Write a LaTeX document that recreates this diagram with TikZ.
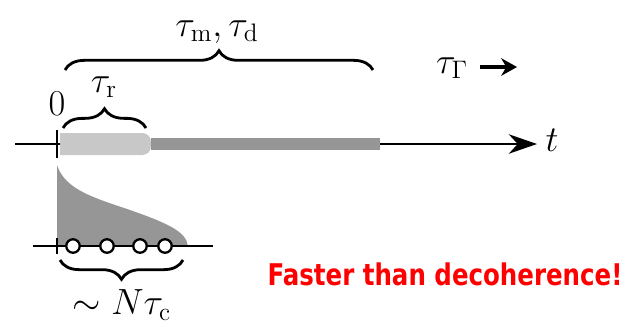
\documentclass[tikz,border=0pt]{standalone}
\usepackage{fontspec}
\newfontfamily\alertfont{DejaVu Sans}
\usetikzlibrary{arrows.meta,decorations.pathreplacing}
\definecolor{barlight}{RGB}{200,200,200}
\definecolor{bardark}{RGB}{150,150,150}
\definecolor{alertred}{RGB}{255,0,0}

\begin{document}
\begin{tikzpicture}[
  x=0.02cm,y=-0.02cm,
  axis/.style={line width=1.6pt},
  timebrace/.style={decorate,decoration={brace,amplitude=11pt},line width=1.6pt},
  lbl/.style={font=\huge,inner sep=0pt},
  site/.style={circle,draw,fill=white,line width=1.3pt,minimum size=0.27cm,inner sep=0pt},
  alert/.style={font=\alertfont\bfseries\fontsize{17}{19}\selectfont,text=alertred,inner sep=0pt,xscale=0.82}
]
\useasboundingbox (0,0) rectangle (626,326);

% time axis
\coordinate (tstart) at (15,144);
\coordinate (tend) at (537,144);
\draw[axis,-{Stealth[length=16pt,width=11pt,inset=5pt]}] (tstart) -- (tend);
\node[lbl] (tlbl) at (552,140) {$t$};

% pulse bars
\fill[barlight] (60,133) [rounded corners=2] -- (146,133) -- (151,138) -- (151,150) -- (146,155) [sharp corners] -- (60,155) -- cycle;
\fill[bardark] (151,138) rectangle (380,150);
\draw[axis] (57,130) -- (57,158);
\node[lbl] (zero) at (57,104) {$0$};

% braces above the axis
\coordinate (rleft) at (63,128);
\coordinate (rright) at (146,128);
\draw[timebrace] (rleft) -- (rright);
\node[lbl] (taur) at (104,87) {$\tau_{\rm r}$};
\coordinate (mleft) at (65,70);
\coordinate (mright) at (373,70);
\draw[timebrace] (mleft) -- (mright);
\node[lbl] (taumd) at (217,32) {$\tau_{\rm m},\tau_{\rm d}$};

% gamma time
\node[lbl] (taug) at (452,68) {$\tau_\Gamma$};
\coordinate (gend) at (517,67);
\draw[line width=2pt,-{Stealth[length=9pt,width=10pt]}] (480,67) -- (gend);

% decay and pulse train
\fill[bardark] (57,165) .. controls (65,190) and (95,198) .. (130,210)
  .. controls (170,224) and (186,232) .. (188,246) -- (57,246) -- cycle;
\draw[axis] (33,246) -- (213,246);
\draw[axis] (57,238) -- (57,254);
\foreach \x [count=\i] in {73,107,140,165}
  \node[site] (c\i) at (\x,246) {};

\coordinate (nleft) at (60,260);
\coordinate (nright) at (183,260);
\draw[timebrace] (nright) -- (nleft);
\node[lbl] (ntauc) at (122,305) {$\sim N\tau_{\rm c}$};

\node[alert,anchor=base] (faster) at (445,285) {Faster than decoherence!};
\end{tikzpicture}
\end{document}
